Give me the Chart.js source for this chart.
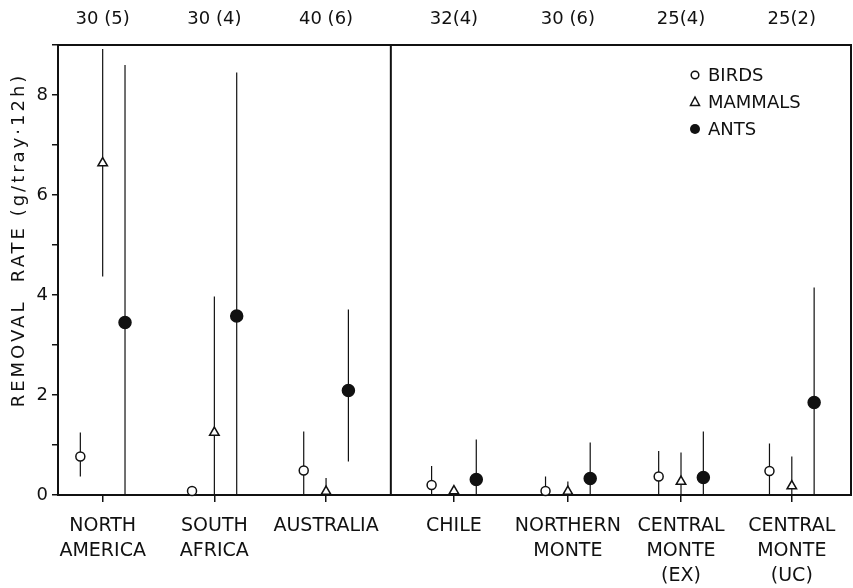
<!DOCTYPE html>
<html>
<head>
<meta charset="utf-8">
<script src="https://cdn.jsdelivr.net/npm/chart.js@4.4.1/dist/chart.umd.min.js"></script>
<style>
html, body { margin: 0; padding: 0; background: #fff; }
#wrap { width: 853px; height: 588px; }
</style>
</head>
<body>
<div id="wrap"><canvas id="chart"></canvas></div>
<script>
const categories = [['NORTH', 'AMERICA'], ['SOUTH', 'AFRICA'], ['AUSTRALIA'], ['CHILE'],
    ['NORTHERN', 'MONTE'], ['CENTRAL', 'MONTE', '(EX)'], ['CENTRAL', 'MONTE', '(UC)']];
const sampleSizes = ['30 (5)', '30 (4)', '40 (6)', '32(4)', '30 (6)', '25(4)', '25(2)'];
// category centres on the x scale (the two continents groups are a bit apart)
const catPos = [0.40, 1.40, 2.40, 3.545, 4.565, 5.578, 6.57];
const dividerX = 2.98;
const offsets = { birds: -0.2, mammals: 0, ants: 0.2 };
const yTitle = 'REMOVAL  RATE (g/tray·12h)';

const birds    = [0.77, 0.08, 0.49, 0.20, 0.08, 0.37, 0.48];
const birdsLo  = [0.37, 0, 0, 0, 0, 0, 0];
const birdsHi  = [1.25, 0.08, 1.27, 0.58, 0.37, 0.88, 1.03];

const mammals   = [6.64, 1.25, 0.07, 0.08, 0.07, 0.27, 0.18];
const mammalsLo = [4.37, 0, 0, 0, 0, 0, 0];
const mammalsHi = [8.92, 3.97, 0.34, 0.08, 0.27, 0.85, 0.77];

const ants   = [3.45, 3.58, 2.09, 0.31, 0.33, 0.35, 1.85];
const antsLo = [0, 0, 0.67, 0, 0, 0, 0];
const antsHi = [8.6, 8.45, 3.71, 1.11, 1.05, 1.27, 4.15];

const INK = '#111';
const series = [
    { label: 'BIRDS', values: birds, lo: birdsLo, hi: birdsHi, offset: offsets.birds, style: 'circle', radius: 4.5, fill: '#fff' },
    { label: 'MAMMALS', values: mammals, lo: mammalsLo, hi: mammalsHi, offset: offsets.mammals, style: 'triangle', radius: 5.5, fill: '#fff' },
    { label: 'ANTS', values: ants, lo: antsLo, hi: antsHi, offset: offsets.ants, style: 'circle', radius: 6, fill: INK }
];

Chart.defaults.font.family = "'DejaVu Sans', sans-serif";
Chart.defaults.color = INK;

const framePlugin = {
    id: 'frame',
    beforeDatasetsDraw(chart) {
        const { ctx, chartArea: a, scales } = chart;
        ctx.save();
        ctx.strokeStyle = INK;
        ctx.lineWidth = 2;
        ctx.strokeRect(a.left, a.top, a.right - a.left, a.bottom - a.top);
        const dx = scales.x.getPixelForValue(dividerX);
        ctx.beginPath();
        ctx.moveTo(dx, a.top);
        ctx.lineTo(dx, a.bottom);
        ctx.stroke();
        // error bars, drawn under the markers
        ctx.lineWidth = 1.2;
        series.forEach(s => {
            s.values.forEach((v, i) => {
                const x = scales.x.getPixelForValue(catPos[i] + s.offset);
                ctx.beginPath();
                ctx.moveTo(x, scales.y.getPixelForValue(s.lo[i]));
                ctx.lineTo(x, scales.y.getPixelForValue(s.hi[i]));
                ctx.stroke();
            });
        });
        ctx.restore();
    }
};

const legendPlugin = {
    id: 'boxLegend',
    afterDraw(chart) {
        const { ctx, chartArea: a } = chart;
        ctx.save();
        ctx.font = "18px 'DejaVu Sans', sans-serif";
        ctx.textBaseline = 'middle';
        ctx.fillStyle = INK;
        ctx.strokeStyle = INK;
        ctx.lineWidth = 1.5;
        const mx = a.right - 156;
        series.forEach((s, i) => {
            const y = a.top + 30 + i * 27;
            ctx.beginPath();
            if (s.style === 'triangle') {
                ctx.moveTo(mx, y - 5);
                ctx.lineTo(mx + 4.5, y + 3.5);
                ctx.lineTo(mx - 4.5, y + 3.5);
                ctx.closePath();
            } else {
                ctx.arc(mx, y, s.fill === INK ? 5 : 3.8, 0, Math.PI * 2);
            }
            if (s.fill === INK) ctx.fill(); else ctx.stroke();
            ctx.fillText(s.label, mx + 13, y + 1);
        });

        // y axis title, letter-spaced like the original lettering
        ctx.translate(19, a.top + 195);
        ctx.rotate(-Math.PI / 2);
        ctx.textAlign = 'center';
        ctx.letterSpacing = '3px';
        ctx.fillText(yTitle, 0, 0);
        ctx.restore();
    }
};

const catTicks = s => { s.ticks = catPos.map(v => ({ value: v })); };
const noSidePad = s => { s.paddingLeft = 0; s.paddingRight = 0; };

new Chart(document.getElementById('chart'), {
    type: 'scatter',
    data: {
        datasets: series.map(s => ({
            label: s.label,
            data: s.values.map((v, i) => ({ x: catPos[i] + s.offset, y: v })),
            pointStyle: s.style,
            pointRadius: s.radius,
            pointBackgroundColor: s.fill,
            pointBorderColor: INK,
            pointBorderWidth: 1.5,
            clip: false
        }))
    },
    options: {
        responsive: true,
        maintainAspectRatio: false,
        animation: false,
        layout: { autoPadding: false, padding: { left: 0, right: 2, top: 0, bottom: 0 } },
        plugins: { legend: { display: false }, tooltip: { enabled: false } },
        scales: {
            x: {
                type: 'linear', min: 0, max: 7.1,
                afterBuildTicks: catTicks,
                ticks: { callback: (v, i) => categories[i], font: { size: 19, lineHeight: 1.3 }, padding: 12, maxRotation: 0, autoSkip: false },
                grid: { drawOnChartArea: false, tickLength: 7, color: INK, lineWidth: 1.5 },
                border: { display: false },
                afterFit: s => { s.height = 93; noSidePad(s); }
            },
            x2: {
                type: 'linear', position: 'top', min: 0, max: 7.1,
                afterBuildTicks: catTicks,
                ticks: { callback: (v, i) => sampleSizes[i], font: { size: 18 }, padding: 7, maxRotation: 0, autoSkip: false },
                grid: { display: false },
                border: { display: false },
                afterFit: s => { s.height = 45; noSidePad(s); }
            },
            y: {
                min: 0, max: 9,
                ticks: { stepSize: 1, callback: v => (v % 2 === 0 ? v : ''), font: { size: 18 }, padding: 4 },
                grid: { drawOnChartArea: false, tickLength: 6, color: INK, lineWidth: 1.5 },
                border: { display: false },
                afterFit: s => { s.width = 58; }
            }
        }
    },
    plugins: [framePlugin, legendPlugin]
});
</script>
</body>
</html>
